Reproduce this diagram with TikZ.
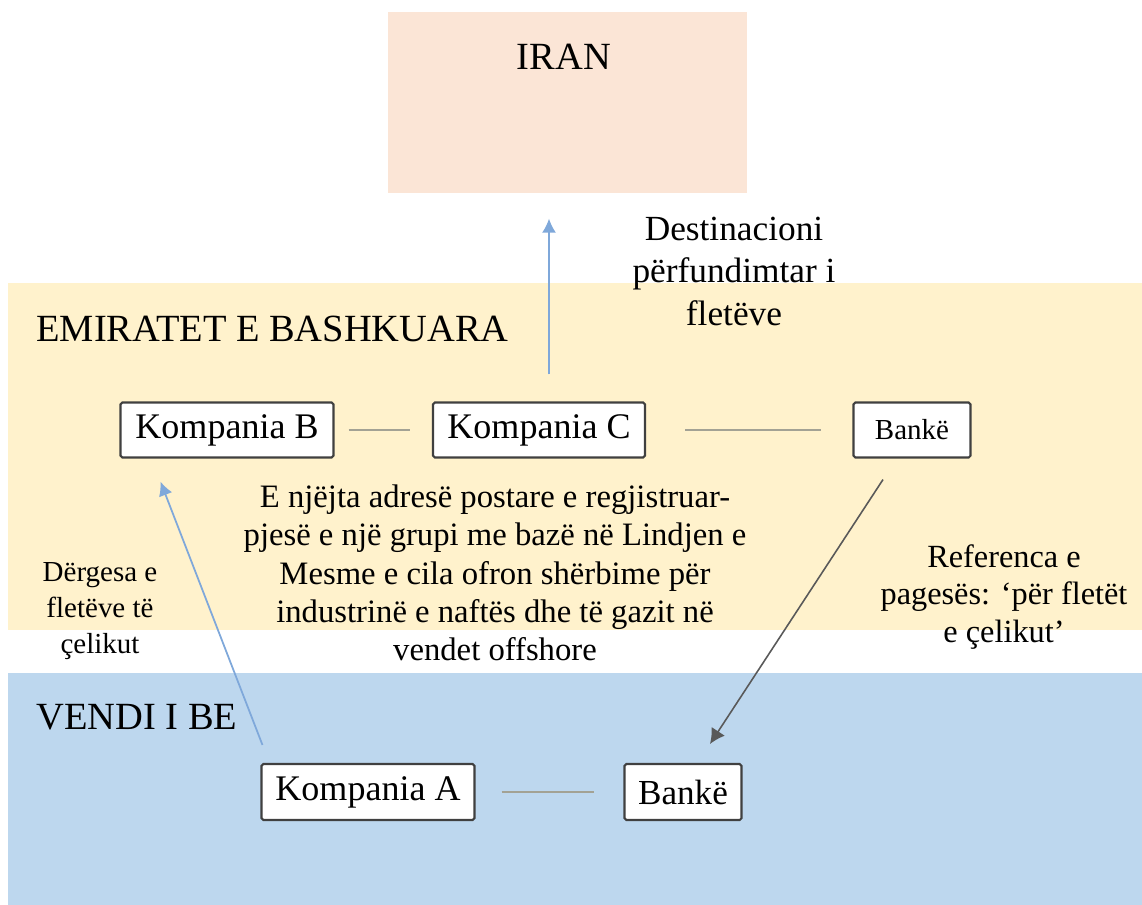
\documentclass[tikz,border=0pt]{standalone}
\usepackage{fontspec}
\setmainfont{Liberation Serif}
\usepackage{tikz}
\usetikzlibrary{arrows,arrows.meta}

\definecolor{iranfill}{HTML}{FBE5D6}
\definecolor{uaefill}{HTML}{FFF2CC}
\definecolor{eufill}{HTML}{BDD7EE}
\definecolor{shipblue}{HTML}{7FA8DA}
\definecolor{boxline}{HTML}{404040}
\definecolor{linkgray}{HTML}{A3A294}

\begin{document}
\begin{tikzpicture}[x=0.02cm, y=-0.02cm,
	firm/.style={draw=boxline, fill=white, line width=1.2pt, rounded corners=1pt, inner sep=0pt, minimum height=1.1cm},
	link/.style={draw=linkgray, line width=0.8pt},
	ship/.style={draw=shipblue, line width=1pt, -{Latex[length=8pt,width=8pt]}},
	pay/.style={draw=black!65, line width=0.9pt, -{Latex[length=8.5pt,width=9pt]}},
	head/.style={anchor=base west, inner sep=0pt, font=\fontsize{21.9pt}{26pt}\selectfont},
	note/.style={align=center, inner sep=0pt}]

	\useasboundingbox (0,0) rectangle (1142,905);

	\fill[uaefill] (8,283) rectangle (1142,630);
	\fill[eufill] (8,673) rectangle (1142,905);

	\node[fill=iranfill, anchor=north west, inner sep=0pt, minimum width=7.18cm, minimum height=3.62cm] (iran) at (388,12) {};
	\node[anchor=base, inner sep=0pt, font=\fontsize{21.9pt}{26pt}\selectfont] (iranname) at (564,70) {IRAN};
	\node[head] (uae) at (36,341) {EMIRATET E BASHKUARA};
	\node[head] (eu) at (36,729) {VENDI I BE};

	\node[firm, minimum width=4.26cm, font=\fontsize{20.5pt}{24pt}\selectfont] (kompB) at (227,430) {Kompania B};
	\node[firm, minimum width=4.24cm, font=\fontsize{20.5pt}{24pt}\selectfont] (kompC) at (539,430) {Kompania C};
	\node[firm, minimum width=2.34cm, font=\fontsize{16.5pt}{20pt}\selectfont] (bankUAE) at (912,430) {Bankë};
	\node[firm, minimum width=4.26cm, minimum height=1.12cm, font=\fontsize{20.5pt}{24pt}\selectfont] (kompA) at (368,792) {Kompania A};
	\node[firm, minimum width=2.34cm, minimum height=1.12cm, font=\fontsize{20pt}{24pt}\selectfont] (bankEU) at (683,792) {Bankë};

	\draw[link, shorten <=0.28cm, shorten >=0.44cm] (kompB) -- (kompC);
	\draw[link, shorten <=0.78cm, shorten >=0.62cm] (kompC) -- (bankUAE);
	\draw[link, shorten <=0.52cm, shorten >=0.58cm] (kompA) -- (bankEU);

	\draw[ship, shorten >=0.5cm] ([xshift=0.2cm, yshift=0.54cm]kompC.north) -- ([xshift=0.2cm]kompC.north |- iran.south);
	\draw[ship] ([xshift=0.04cm, yshift=0.36cm]kompA.north west) -- ([xshift=0.82cm, yshift=-0.46cm]kompB.south west);
	\draw[pay] ([xshift=-0.58cm, yshift=-0.42cm]bankUAE.south) -- ([xshift=0.54cm, yshift=0.38cm]bankEU.north);

	\node[note, font=\fontsize{20.1pt}{24.2pt}\selectfont] (dest) at (734,271) {Destinacioni\\përfundimtar i\\fletëve};
	\node[note, font=\fontsize{18.6pt}{21.8pt}\selectfont] (addr) at (495,573) {E njëjta adresë postare e regjistruar-\\pjesë e një grupi me bazë në Lindjen e\\Mesme e cila ofron shërbime për\\industrinë e naftës dhe të gazit në\\vendet offshore};
	\node[note, font=\fontsize{16.5pt}{20.5pt}\selectfont] (ship) at (100,611) {Dërgesa e\\fletëve të\\çelikut};
	\node[note, font=\fontsize{18.4pt}{21.3pt}\selectfont] (ref) at (1004,597) {Referenca e\\pagesës: ‘për fletët\\e çelikut’};

\end{tikzpicture}
\end{document}
